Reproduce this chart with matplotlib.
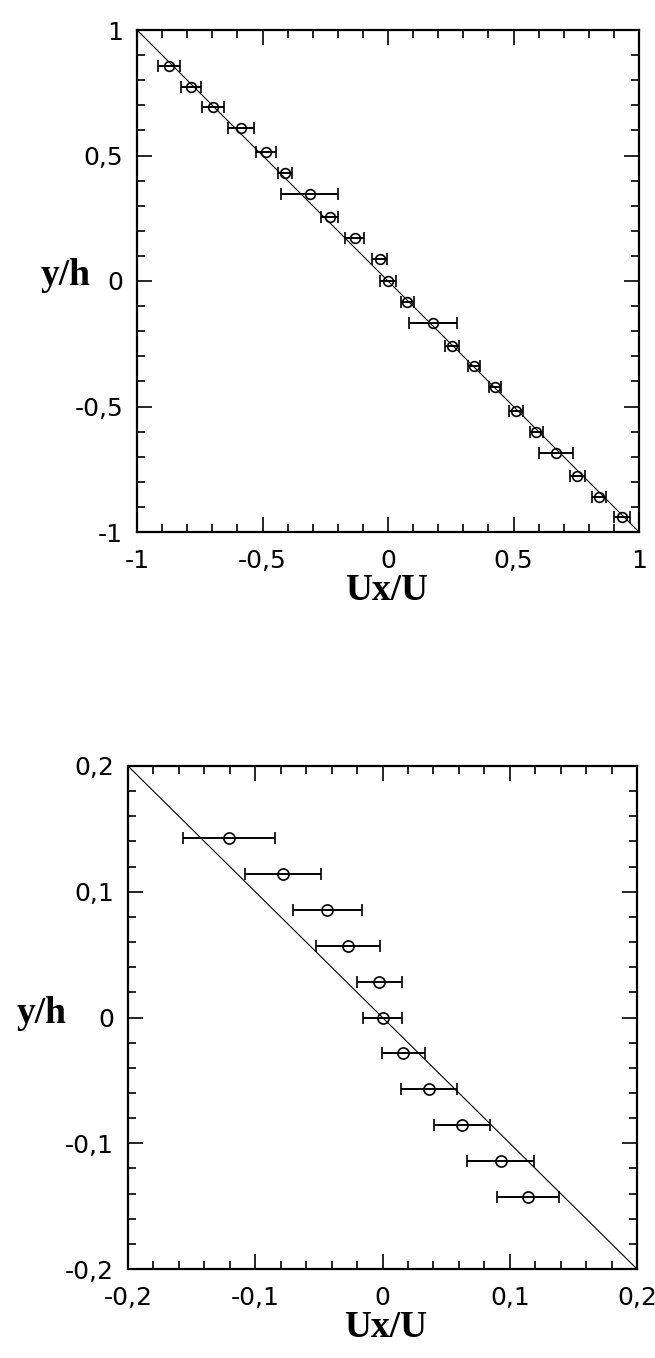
import matplotlib
matplotlib.use("Agg")
import matplotlib.pyplot as plt
from matplotlib.ticker import MultipleLocator

# --- panel 1 : full gap ---
ux_full = [-0.872, -0.786, -0.697, -0.584, -0.485, -0.410, -0.312, -0.232, -0.133, -0.033, 0.000,
           0.077, 0.179, 0.256, 0.343, 0.425, 0.511, 0.591, 0.671, 0.754, 0.841, 0.934]
yh_full = [0.857, 0.774, 0.692, 0.608, 0.513, 0.429, 0.345, 0.256, 0.170, 0.088, 0.000,
           -0.082, -0.169, -0.258, -0.339, -0.421, -0.518, -0.603, -0.687, -0.776, -0.859, -0.941]
err_full = [0.044, 0.040, 0.045, 0.052, 0.039, 0.028, 0.114, 0.033, 0.038, 0.030, 0.030,
            0.027, 0.096, 0.028, 0.024, 0.024, 0.028, 0.026, 0.068, 0.030, 0.028, 0.032]
line_full_x = [-1, 1]
line_full_y = [1, -1]
ticks_full = [-1, -0.5, 0, 0.5, 1]
labels_full = ["-1", "-0,5", "0", "0,5", "1"]

# --- panel 2 : zoom near the centre ---
ux_zoom = [-0.1205, -0.078, -0.0435, -0.0270, -0.0025, 0.000,
           0.0165, 0.0366, 0.0625, 0.0928, 0.1143]
yh_zoom = [0.1428, 0.1143, 0.0857, 0.0571, 0.0286, 0.000,
           -0.0286, -0.0571, -0.0857, -0.1143, -0.1428]
err_zoom = [0.036, 0.030, 0.027, 0.025, 0.0175, 0.015,
            0.0167, 0.0223, 0.022, 0.0265, 0.0245]
line_zoom_x = [-0.2, 0.2]
line_zoom_y = [0.2, -0.2]
ticks_zoom = [-0.2, -0.1, 0, 0.1, 0.2]
labels_zoom = ["-0,2", "-0,1", "0", "0,1", "0,2"]

W, H = 655, 1358
fig = plt.figure(figsize=(W / 100, H / 100), dpi=100)


def px_box(x0, y0, x1, y1):
    return [x0 / W, 1 - y1 / H, (x1 - x0) / W, (y1 - y0) / H]


def panel(rect, x, y, err, lx, ly, ticks, labels, minor, ms):
    ax = fig.add_axes(rect)
    ax.plot(lx, ly, color="black", lw=0.8)
    ax.errorbar(x, y, xerr=err, fmt="o", color="black", mfc="none", ms=ms,
                mew=1.2, elinewidth=1.4, capsize=4, capthick=1.4)
    ax.set_xlim(ticks[0], ticks[-1])
    ax.set_ylim(ticks[0], ticks[-1])
    ax.set_xticks(ticks)
    ax.set_yticks(ticks)
    ax.set_xticklabels(labels)
    ax.set_yticklabels(labels)
    ax.xaxis.set_minor_locator(MultipleLocator(minor))
    ax.yaxis.set_minor_locator(MultipleLocator(minor))
    ax.tick_params(which="both", direction="in", top=True, right=True, width=1.2,
                   labelsize=18, color="black")
    ax.tick_params(which="major", length=10.8)
    ax.tick_params(which="minor", length=5.8)
    ax.tick_params(axis="x", pad=12)
    ax.tick_params(axis="y", pad=10)
    for s in ax.spines.values():
        s.set_linewidth(1.6)
    return ax


panel(px_box(137, 30, 639, 532), ux_full, yh_full, err_full, line_full_x, line_full_y,
      ticks_full, labels_full, 0.1, 7)
panel(px_box(128, 766, 637, 1269), ux_zoom, yh_zoom, err_zoom, line_zoom_x, line_zoom_y,
      ticks_zoom, labels_zoom, 0.02, 8)

lab = dict(family="Liberation Serif", weight="bold", fontsize=27, ha="center", va="baseline")
fig.text(387 / W, 1 - 600 / H, "Ux/U", **lab)
fig.text(386 / W, 1 - 1337 / H, "Ux/U", **lab)
fig.text(66 / W, 1 - 285 / H, "y/h", **lab)
fig.text(42 / W, 1 - 1023 / H, "y/h", **lab)

fig.savefig("out.png", dpi=100, facecolor="white")
